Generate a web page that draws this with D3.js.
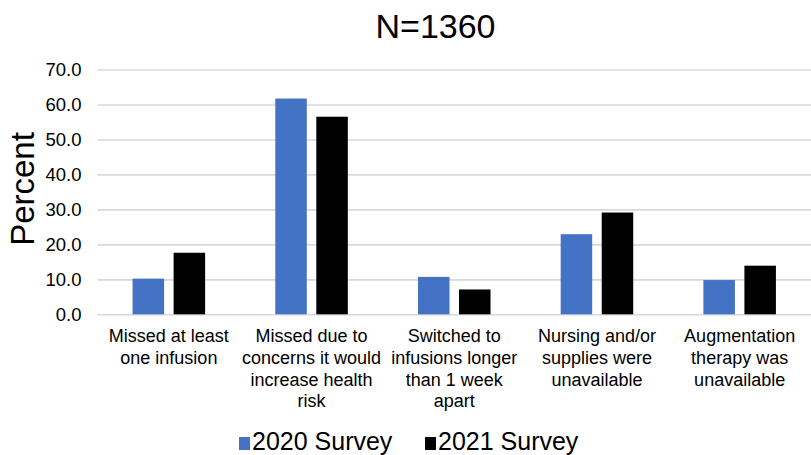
<!DOCTYPE html>
<html>
<head>
<meta charset="utf-8">
<script src="https://cdn.jsdelivr.net/npm/d3@7"></script>
<style>
  html, body { margin: 0; padding: 0; background: #fff; }
  svg { display: block; font-family: "Liberation Sans", Arial, Helvetica, sans-serif; }
</style>
</head>
<body>
<svg id="chart" width="811" height="455"></svg>
<script>
// Reasons for missed / changed infusions, by survey year
const categories = [
  "Missed at least one infusion",
  "Missed due to concerns it would increase health risk",
  "Switched to infusions longer than 1 week apart",
  "Nursing and/or supplies were unavailable",
  "Augmentation therapy was unavailable"
];
const categoryLines = [
  ["Missed at least", "one infusion"],
  ["Missed due to", "concerns it would", "increase health", "risk"],
  ["Switched to", "infusions longer", "than 1 week", "apart"],
  ["Nursing and/or", "supplies were", "unavailable"],
  ["Augmentation", "therapy was", "unavailable"]
];
const seriesNames = ["2020 Survey", "2021 Survey"];
const seriesColors = ["#4472C4", "#000000"];
const values2020 = [10.2, 61.7, 10.7, 22.9, 9.8];
const values2021 = [17.6, 56.5, 7.1, 29.1, 13.9];
const yTicks = [0, 10, 20, 30, 40, 50, 60, 70];
const titleText = "N=1360";
const yAxisTitle = "Percent";

const seriesValues = [values2020, values2021];
const svg = d3.select("#chart");

const plot = { left: 97.5, right: 811, top: 69.5, bottom: 314.3 };

const x0 = d3.scaleBand()
  .domain(categories)
  .range([plot.left, plot.right])
  .padding(0);

const x1 = d3.scaleBand()
  .domain(seriesNames)
  .range([0, x0.bandwidth()])
  .paddingInner(0.232)
  .paddingOuter(0.855);

const y = d3.scaleLinear()
  .domain([0, 70])
  .range([plot.bottom, plot.top]);

// Horizontal gridlines with tick labels
const yAxis = svg.append("g")
  .attr("transform", `translate(${plot.left},0)`)
  .call(d3.axisLeft(y)
    .tickValues(yTicks)
    .tickFormat(d3.format(".1f"))
    .tickSize(-(plot.right - plot.left))
    .tickPadding(16));
yAxis.select(".domain").remove();
yAxis.selectAll(".tick line")
  .attr("stroke", "#d9d9d9")
  .attr("stroke-width", 1.6);
yAxis.selectAll(".tick text")
  .attr("fill", "#000")
  .style("font-size", "18.5px")
  .style("font-family", "'Liberation Sans', Arial, sans-serif");

// Bars
const groups = svg.append("g")
  .selectAll("g")
  .data(categories)
  .join("g")
  .attr("transform", d => `translate(${x0(d)},0)`);

groups.selectAll("rect")
  .data((d, i) => seriesNames.map((s, k) => ({ series: s, k, value: seriesValues[k][i] })))
  .join("rect")
  .attr("x", d => x1(d.series))
  .attr("width", x1.bandwidth())
  .attr("y", d => y(d.value))
  .attr("height", d => y(0) - y(d.value))
  .attr("fill", d => seriesColors[d.k]);

// Category labels (multi-line)
const xAxis = svg.append("g")
  .attr("transform", `translate(0,${plot.bottom})`)
  .call(d3.axisBottom(x0).tickSize(0).tickFormat(""));
xAxis.select(".domain").remove();
xAxis.selectAll(".tick").each(function (d, i) {
  const t = d3.select(this).append("text")
    .attr("fill", "#000")
    .attr("text-anchor", "middle")
    .style("font-size", "18px")
    .style("font-family", "'Liberation Sans', Arial, sans-serif");
  categoryLines[i].forEach((line, j) => {
    t.append("tspan")
      .attr("x", 0)
      .attr("y", 27.7 + j * 21.8)
      .text(line);
  });
});

// Title
svg.append("text")
  .attr("x", 435.5)
  .attr("y", 38)
  .attr("text-anchor", "middle")
  .style("font-size", "34px")
  .text(titleText);

// Y axis title
svg.append("text")
  .attr("transform", `translate(34,189) rotate(-90)`)
  .attr("text-anchor", "middle")
  .style("font-size", "33px")
  .text(yAxisTitle);

// Legend
const legendItems = [
  { name: seriesNames[0], color: seriesColors[0], x: 239 },
  { name: seriesNames[1], color: seriesColors[1], x: 425 }
];
const legend = svg.append("g");
legendItems.forEach(item => {
  legend.append("rect")
    .attr("x", item.x)
    .attr("y", 437)
    .attr("width", 11)
    .attr("height", 13)
    .attr("fill", item.color);
  legend.append("text")
    .attr("x", item.x + 13)
    .attr("y", 449.5)
    .style("font-size", "25px")
    .text(item.name);
});
</script>
</body>
</html>
